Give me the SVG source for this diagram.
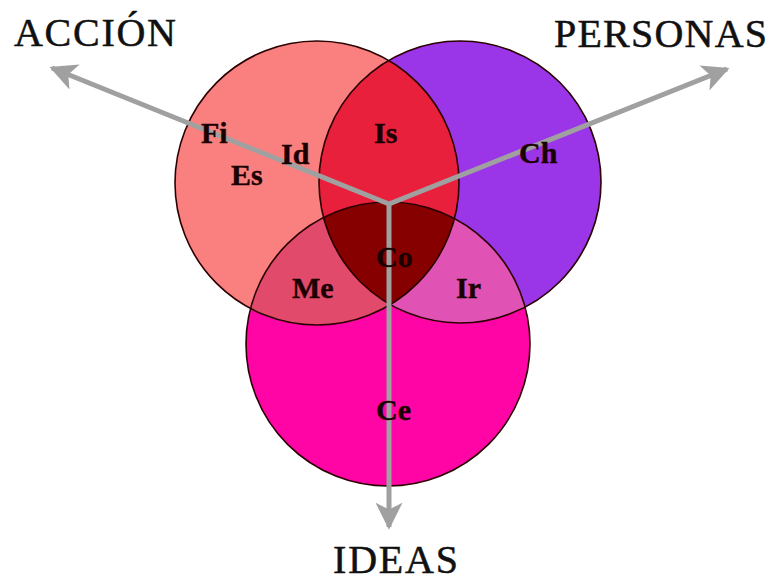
<svg xmlns="http://www.w3.org/2000/svg" width="774" height="581" viewBox="0 0 774 581">
<style>
.lbl{font-family:"Liberation Serif","Times New Roman",serif;font-weight:bold;font-size:30px;fill:#1a0000;stroke:#1a0000;stroke-width:0.4}
.head{font-family:"Liberation Serif","Times New Roman",serif;font-size:40px;fill:#111;stroke:#111;stroke-width:0.5}
.ring{fill:none;stroke:#2a0000;stroke-width:1.6}
.arrow{stroke:#a0a0a0;stroke-width:5;fill:none;marker-end:url(#ah)}
</style>
<defs>
<marker id="ah" viewBox="0 0 10 10" refX="9" refY="5" markerWidth="5.4" markerHeight="5.6" orient="auto" markerUnits="strokeWidth">
<path d="M0,0 L10,5 L0,10 L2.5,5 Z" fill="#a0a0a0"/>
</marker>
<clipPath id="cL"><circle cx="317" cy="183" r="142"/></clipPath>
<clipPath id="cR"><circle cx="460" cy="182" r="141"/></clipPath>
<clipPath id="cB"><circle cx="388" cy="344" r="142"/></clipPath>
</defs>
<rect width="774" height="581" fill="#ffffff"/>
<g id="circle-accion"><circle cx="317" cy="183" r="142" fill="#fa8080"/></g>
<g id="circle-personas"><circle cx="460" cy="182" r="141" fill="#9a35e8"/></g>
<g id="circle-ideas"><circle cx="388" cy="344" r="142" fill="#ff05a5"/></g>
<g id="region-is" clip-path="url(#cL)"><circle cx="460" cy="182" r="141" fill="#e8203c"/></g>
<g id="region-me" clip-path="url(#cL)"><circle cx="388" cy="344" r="142" fill="#e24a6c"/></g>
<g id="region-ir" clip-path="url(#cR)"><circle cx="388" cy="344" r="142" fill="#e052b4"/></g>
<g id="region-co" clip-path="url(#cL)"><g clip-path="url(#cR)"><circle cx="388" cy="344" r="142" fill="#860000"/></g></g>
<g id="outlines">
<circle class="ring" cx="317" cy="183" r="142"/>
<circle class="ring" cx="460" cy="182" r="141"/>
<circle class="ring" cx="388" cy="344" r="142"/>
</g>
<g id="connectors">
<line class="arrow" x1="389" y1="204" x2="52" y2="68"/>
<line class="arrow" x1="389" y1="204" x2="727" y2="69"/>
<line class="arrow" x1="389" y1="204" x2="389" y2="527"/>
</g>
<g id="labels">
<text class="lbl" x="201" y="143">Fi</text>
<text class="lbl" x="231" y="185">Es</text>
<text class="lbl" x="281" y="164">Id</text>
<text class="lbl" x="374" y="143">Is</text>
<text class="lbl" x="519" y="163">Ch</text>
<text class="lbl" x="376" y="267">Co</text>
<text class="lbl" x="292" y="298">Me</text>
<text class="lbl" x="456" y="298">Ir</text>
<text class="lbl" x="376" y="420">Ce</text>
</g>
<g id="headings">
<text class="head" x="14" y="46" textLength="162" lengthAdjust="spacing">ACCIÓN</text>
<text class="head" x="554" y="47" textLength="213" lengthAdjust="spacing">PERSONAS</text>
<text class="head" x="333" y="573" textLength="125" lengthAdjust="spacing">IDEAS</text>
</g>
</svg>
